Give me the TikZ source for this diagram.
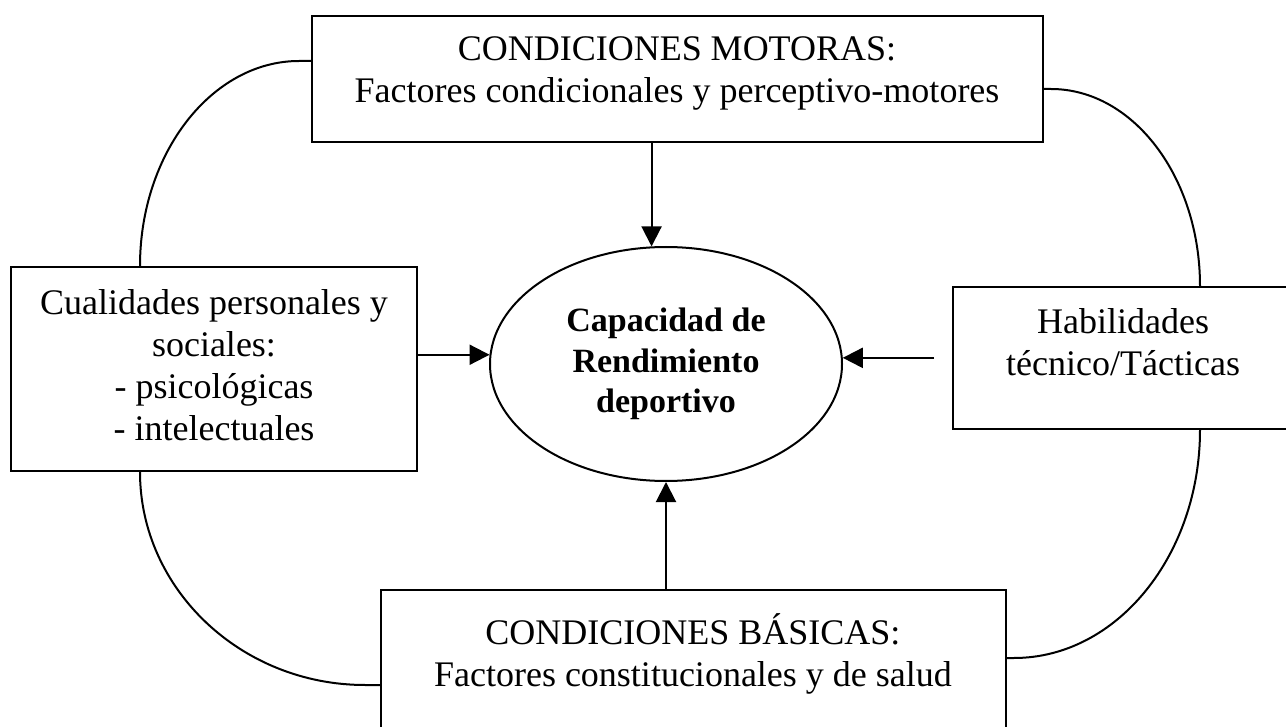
\documentclass[tikz,border=0pt]{standalone}
\usepackage{fontspec}
\setmainfont{Liberation Serif}
\usetikzlibrary{arrows.meta,shapes.geometric}
\begin{document}
\begin{tikzpicture}[x=0.5pt,y=-0.5pt,
  line width=1pt,
  boxnode/.style={draw,rectangle,inner sep=0pt},
  txt/.style={inner sep=0pt,anchor=north,align=center,font=\fontsize{18}{21}\selectfont},
  arr/.style={-{Triangle[length=10pt,width=10pt]}},
  link/.style={line width=1pt}]
\useasboundingbox (0,0) rectangle (1286,727);
\clip (0,0) rectangle (1286,727);
% boxes
\node[boxnode,minimum width=365.5pt,minimum height=63pt] (top) at (677.5,79) {};
\node[boxnode,minimum width=203pt,minimum height=102pt] (left) at (214,369) {};
\node[boxnode,minimum width=173.5pt,minimum height=71pt] (right) at (1126.5,358) {};
\node[boxnode,minimum width=312.5pt,minimum height=80pt] (bot) at (693.5,670) {};
\node[draw,ellipse,inner sep=0pt,minimum width=176pt,minimum height=117pt,align=center,
      font=\fontsize{17}{20.25}\selectfont\bfseries] (ell) at (666,364)
      {Capacidad de\\Rendimiento\\deportivo};
% texts
\node[txt] (toptext) at (677,36) {CONDICIONES MOTORAS:\\Factores condicionales y perceptivo-motores};
\node[txt] (lefttext) at (214,289) {Cualidades personales y\\sociales:\\- psicológicas\\- intelectuales};
\node[txt] (righttext) at (1123,308) {Habilidades\\técnico/Tácticas};
\node[txt] (bottext) at (693,613) {CONDICIONES BÁSICAS:\\Factores constitucionales y de salud};
% arrows
\draw[arr] (ell.97.82 |- top.south) -- (ell.97.82);
\draw[arr] (left.east |- ell.177.7) -- (ell.177.7);
\draw[arr,shorten <=9pt] (right.west |- ell.2.3) -- (ell.2.3);
\draw[arr] (ell.south |- bot.north) -- (ell.south);
% curved links
\draw[link] ([yshift=9pt]top.west) -- ++(-12,0) .. controls (212,61) and (140,153) .. ([xshift=-37pt]left.north);
\draw[link] ([yshift=-5pt]top.east) -- ++(7,0) .. controls (1133,89) and (1200,177) .. ([xshift=36.75pt]right.north);
\draw[link] ([xshift=-37pt]left.south) .. controls (140,589) and (241,685) .. (365,685) -- ([yshift=-7.5pt]bot.west);
\draw[link] ([xshift=36.75pt]right.south) .. controls (1200,555) and (1117,658) .. (1014,658) -- ([yshift=6pt]bot.east);
\end{tikzpicture}
\end{document}
